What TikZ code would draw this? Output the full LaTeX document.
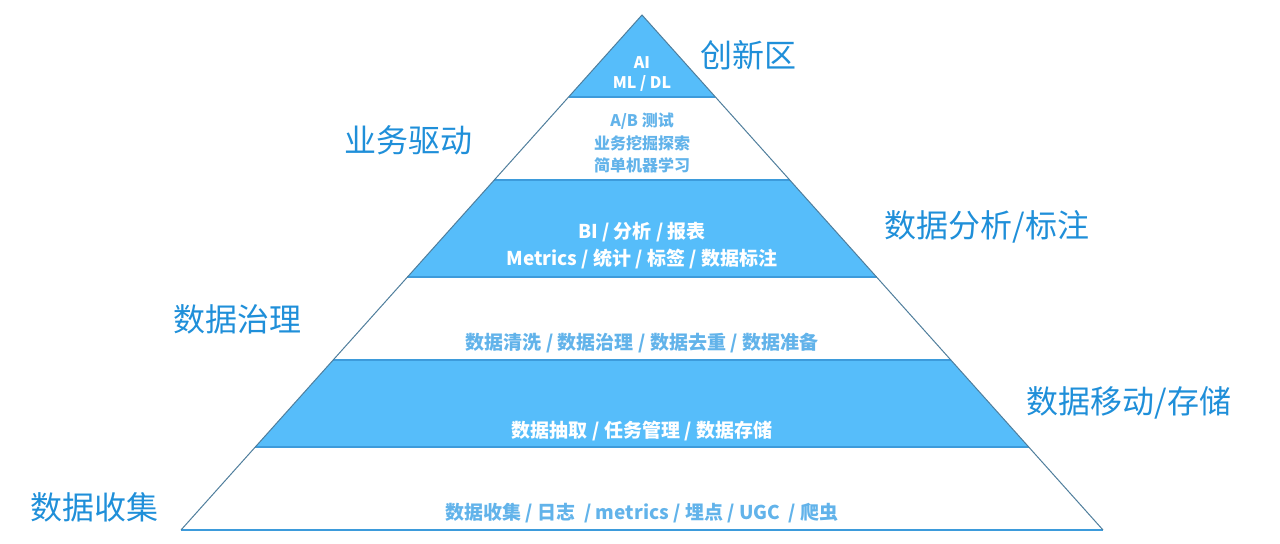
\documentclass[tikz,border=0pt]{standalone}
\usepackage{fontspec}
\setmainfont{Noto Sans CJK SC}
\usetikzlibrary{calc}

\definecolor{bandblue}{HTML}{56BDFA}
\definecolor{hblue}{HTML}{3D9BDB}
\definecolor{edgegray}{HTML}{4F7E9C}
\definecolor{labelblue}{HTML}{1F8FD9}
\definecolor{softblue}{HTML}{62B3EA}

\begin{document}
\begin{tikzpicture}[x=0.5pt,y=-0.5pt,
  band/.style={fill=bandblue},
  hline/.style={draw=hblue,line width=0.6pt},
  sideline/.style={draw=edgegray,line width=0.5pt},
  sidelabel/.style={text=labelblue,font=\fontsize{16}{18}\selectfont,inner sep=0pt},
  ontext/.style={text=white,font=\bfseries\fontsize{9.5}{12}\selectfont,inner sep=0pt},
  offtext/.style={text=softblue,font=\bfseries\fontsize{9.5}{12}\selectfont,inner sep=0pt},
  small/.style={font=\bfseries\fontsize{8}{10}\selectfont}]
\useasboundingbox (0,0) rectangle (1280,544);

\coordinate (apex) at (642,15);
\coordinate (bl) at (181,530);
\coordinate (br) at (1103,530);
\foreach \n/\t in {1/0.1592,2/0.3204,3/0.5087,4/0.6699,5/0.8388}{
  \coordinate (l\n) at ($(apex)!\t!(bl)$);
  \coordinate (r\n) at ($(apex)!\t!(br)$);
}

% blue bands
\path[band] (apex) -- (r1) -- (l1) -- cycle;
\path[band] (l2) -- (r2) -- (r3) -- (l3) -- cycle;
\path[band] (l4) -- (r4) -- (r5) -- (l5) -- cycle;

\foreach \n in {1,...,5}{
  \path[hline] (l\n) -- (r\n);
}
\path[hline] (bl) -- (br);
\path[sideline] (bl) -- (apex) -- (br);

% texts inside the pyramid
\node[ontext,small] (ai) at (642,63) {AI};
\node[ontext,small] (ml) at (642,83) {ML / DL};
\node[offtext,small] (ab) at (642,121) {A/B 测试};
\node[offtext,small] (biz) at (642,143) {业务挖掘探索};
\node[offtext,small] (simple) at (642,165) {简单机器学习};
\node[ontext] (bi) at (642,232) {BI / 分析 / 报表};
\node[ontext] (metrics) at (642,259) {Metrics / 统计 / 标签 / 数据标注};
\node[offtext] (clean) at (642,343) {数据清洗 / 数据治理 / 数据去重 / 数据准备};
\node[ontext] (extract) at (642,431) {数据抽取 / 任务管理 / 数据存储};
\node[offtext] (collect) at (642,513) {数据收集 / 日志 \ / metrics / 埋点 / UGC \ / 爬虫};

% labels beside the pyramid
\node[sidelabel] (innov) at (748,55) {创新区};
\node[sidelabel] (drive) at (408,140) {业务驱动};
\node[sidelabel] (analyse) at (987,227) {数据分析/标注};
\node[sidelabel] (govern) at (237,319) {数据治理};
\node[sidelabel] (move) at (1129,403) {数据移动/存储};
\node[sidelabel] (gather) at (95,507) {数据收集};
\end{tikzpicture}
\end{document}
